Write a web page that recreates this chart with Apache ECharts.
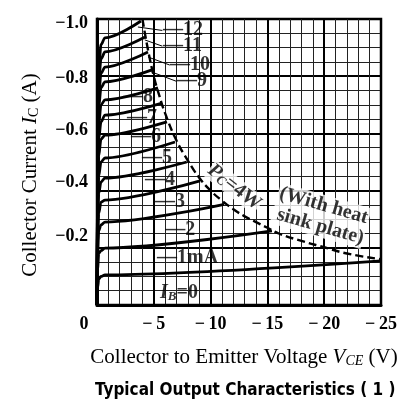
<!DOCTYPE html>
<html>
<head>
<meta charset="utf-8">
<script src="https://cdn.jsdelivr.net/npm/echarts@6/dist/echarts.min.js"></script>
<style>
  html, body { margin: 0; padding: 0; background: #fff; }
  #chart { width: 401px; height: 399px; }
</style>
</head>
<body>
<div id="chart"></div>
<script>
// base current of each curve (mA)
const ibNames = ["0", "1", "2", "3", "4", "5", "6", "7", "8", "9", "10", "11", "12"];

// knee region, shared VCE samples (V)
const kneeV = [0, -0.05, -0.15, -0.35, -0.7];
// Ic at those samples, one row per curve (A)
const kneeI = [
  [0, -0.06, -0.09, -0.1, -0.105],
  [0, -0.12, -0.18, -0.19, -0.199],
  [0, -0.17, -0.26, -0.28, -0.29],
  [0, -0.22, -0.32, -0.36, -0.367],
  [0, -0.27, -0.39, -0.43, -0.444],
  [0, -0.31, -0.45, -0.5, -0.514],
  [0, -0.36, -0.52, -0.58, -0.594],
  [0, -0.4, -0.58, -0.64, -0.664],
  [0, -0.43, -0.63, -0.7, -0.717],
  [0, -0.47, -0.69, -0.76, -0.78],
  [0, -0.5, -0.73, -0.81, -0.832],
  [0, -0.53, -0.78, -0.86, -0.885],
  [0, -0.56, -0.82, -0.91, -0.934],
];
// where each curve stops (on the Pc line, or the right edge)
const endV = [-25, -15.4, -11.2, -9.07, -7.9, -6.87, -6.16, -5.72, -5.37, -4.84, -4.49, -4.23, -3.87];
const endI = [-0.154, -0.259, -0.352, -0.434, -0.5, -0.57, -0.64, -0.706, -0.759, -0.822, -0.885, -0.937, -0.993];

// Pc = 4W dashed line
const pcV = [-4, -4.5, -5, -5.5, -6, -7, -8, -9, -10, -11, -12, -13, -14, -15, -16, -18, -20, -22, -25];
const pcI = [-1.0, -0.89, -0.8, -0.73, -0.67, -0.575, -0.505, -0.445, -0.4, -0.365, -0.335, -0.31, -0.29, -0.27, -0.25, -0.224, -0.202, -0.18, -0.16];

// curve labels: text and left-edge anchor
const labelText = ["{i|I}{s|B}{n|=0}", "—1mA", "—2", "—3", "—4", "—5", "—6", "—7", "—8", "—9", "—10", "—11", "—12"];
const labelV = [-5.55, -5.28, -6.0, -5.1, -4.23, -3.96, -2.99, -2.64, -2.29, -7.04, -6.43, -5.81, -5.81];
const labelI = [-0.042, -0.164, -0.262, -0.36, -0.437, -0.514, -0.587, -0.654, -0.727, -0.783, -0.839, -0.906, -0.962];

// leader lines for 9..12
const leaderFrom = [[-4.8, -0.815], [-4.5, -0.867], [-4.2, -0.927], [-3.6, -0.972]];
const leaderTo = [[-7.0, -0.782], [-6.4, -0.839], [-5.75, -0.905], [-5.75, -0.96]];

const xTicks = [0, -5, -10, -15, -20, -25];
const yTicks = [-1.0, -0.8, -0.6, -0.4, -0.2];

const SERIF = '"Liberation Serif", "DejaVu Serif", serif';
const MINUS = "\u2212";

const chart = echarts.init(document.getElementById("chart"));

const curveSeries = ibNames.map((name, i) => ({
  name: "IB=" + name,
  type: "line",
  data: kneeV.map((v, j) => [v, kneeI[i][j]]).concat([[endV[i], endI[i]]]),
  showSymbol: false,
  smooth: 0.3,
  smoothMonotone: "x",
  silent: true,
  lineStyle: { color: "#000", width: 2.8 },
  z: 5,
}));

// y tick labels sit a bit off their grid lines in the original print
const yShift = [[8, 0], [4, 0], [0, 6], [0, 16], [0, 22]];
const yRich = {};
yShift.forEach((p, i) => {
  yRich["y" + i] = { padding: [p[0], 0, p[1], 0], fontFamily: SERIF, fontSize: 18, fontWeight: "bold", color: "#000" };
});

const labelRich = {
  i: { fontFamily: SERIF, fontSize: 20, fontStyle: "italic", fontWeight: "bold", color: "#000" },
  s: { fontFamily: SERIF, fontSize: 13, fontStyle: "italic", fontWeight: "bold", color: "#000", verticalAlign: "bottom" },
  n: { fontFamily: SERIF, fontSize: 20, fontWeight: "bold", color: "#000" },
};

const option = {
  backgroundColor: "#fff",
  animation: false,
  title: {
    text: "Typical Output Characteristics ( 1 )",
    left: 90,
    top: 377,
    textStyle: { fontFamily: '"Liberation Sans Narrow", "DejaVu Sans Condensed", Roboto, sans-serif', fontSize: 17, fontWeight: "bold", color: "#000" },
  },
  grid: {
    left: 97, right: 20, top: 19, bottom: 94,
    show: true, borderColor: "#000", borderWidth: 2.5,
  },
  xAxis: {
    type: "value",
    min: -25, max: 0, interval: 5,
    inverse: true,
    name: "Collector to Emitter Voltage {v|V}{s|CE} (V)",
    nameLocation: "middle",
    nameGap: 42,
    nameTextStyle: {
      fontFamily: SERIF, fontSize: 21, color: "#000",
      padding: [0, 0, 0, 10],
      rich: {
        v: { fontFamily: SERIF, fontSize: 21, fontStyle: "italic" },
        s: { fontFamily: SERIF, fontSize: 14, fontStyle: "italic", verticalAlign: "bottom" },
      },
    },
    axisLine: { show: true, onZero: false, lineStyle: { color: "#000", width: 3 } },
    axisTick: { show: false },
    axisLabel: {
      margin: 10,
      formatter: (v) => (v === 0 ? "{z|0}" : MINUS + "\u2009" + Math.abs(v)),
      fontFamily: SERIF, fontSize: 18, fontWeight: "bold", color: "#000",
      rich: { z: { fontFamily: SERIF, fontSize: 18, fontWeight: "bold", color: "#000", padding: [0, 26, 0, 0] } },
    },
    splitLine: { show: true, lineStyle: { color: "#000", width: 2 } },
    minorTick: { show: false, splitNumber: 5 },
    minorSplitLine: { show: true, lineStyle: { color: "#222", width: 1 } },
  },
  yAxis: {
    type: "value",
    min: -1, max: 0, interval: 0.2,
    inverse: true,
    name: "Collector Current {i|I}{s|C} (A)",
    nameLocation: "middle",
    nameGap: 56,
    nameRotate: 90,
    nameTextStyle: {
      fontFamily: SERIF, fontSize: 21, color: "#000",
      padding: [0, 26, 0, 0],
      rich: {
        i: { fontFamily: SERIF, fontSize: 21, fontStyle: "italic" },
        s: { fontFamily: SERIF, fontSize: 14, verticalAlign: "bottom" },
      },
    },
    axisLine: { show: true, onZero: false, lineStyle: { color: "#000", width: 3 } },
    axisTick: { show: false },
    axisLabel: {
      margin: 9,
      formatter: (v) => {
        const k = yTicks.findIndex((t) => Math.abs(t - v) < 1e-6);
        if (k < 0) return "";
        return "{y" + k + "|" + MINUS + Math.abs(v).toFixed(1) + "}";
      },
      rich: yRich,
    },
    splitLine: { show: true, lineStyle: { color: "#000", width: 2 } },
    minorTick: { show: false, splitNumber: 4 },
    minorSplitLine: { show: true, lineStyle: { color: "#222", width: 1 } },
  },
  series: curveSeries.concat([
    {
      name: "Pc=4W",
      type: "line",
      data: pcV.map((v, i) => [v, pcI[i]]),
      showSymbol: false,
      smooth: true,
      silent: true,
      lineStyle: { color: "#000", width: 2.4, type: [8, 4] },
      z: 8,
    },
    {
      name: "leaders",
      type: "lines",
      coordinateSystem: "cartesian2d",
      silent: true,
      data: leaderFrom.map((p, i) => ({ coords: [p, leaderTo[i]] })),
      lineStyle: { color: "#000", width: 1, opacity: 1 },
      z: 6,
    },
    {
      name: "labels",
      type: "scatter",
      symbolSize: 0,
      silent: true,
      z: 7,
      data: labelText.map((t, i) => ({
        value: [labelV[i], labelI[i]],
        label: { formatter: t },
      })),
      label: {
        show: true,
        position: "right",
        distance: 0,
        fontFamily: SERIF,
        fontSize: 20,
        fontWeight: "bold",
        color: "#000",
        rich: labelRich,
      },
    },
    {
      name: "notes",
      type: "scatter",
      symbolSize: 0,
      silent: true,
      z: 7,
      data: [
        {
          value: [-12.1, -0.412],
          label: { formatter: "{i|P}{s|C}{n|=4W}", rotate: -38 },
        },
        {
          value: [-19.7, -0.312],
          label: { formatter: "{n|(With heat}\n{n| sink plate)}", rotate: -16, lineHeight: 21 },
        },
      ],
      label: {
        show: true,
        position: "inside",
        fontFamily: SERIF,
        fontSize: 20,
        fontWeight: "bold",
        color: "#000",
        backgroundColor: "#fff",
        rich: labelRich,
      },
    },
  ]),
};

chart.setOption(option);
</script>
</body>
</html>
